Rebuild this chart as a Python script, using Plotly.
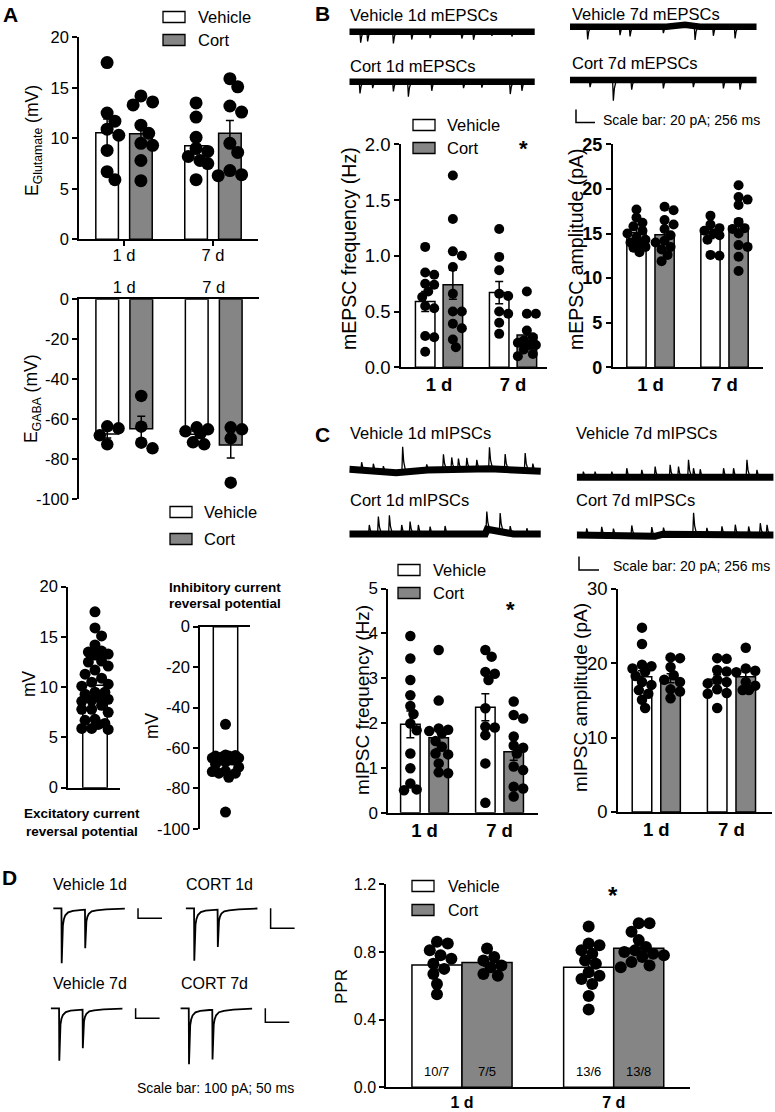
import numpy as np
import plotly.graph_objects as go

W, H = 775, 1112
FONT = "Liberation Sans, Arial, Helvetica, sans-serif"
GRAY = "#858585"

# ---------------- data ----------------
groups = ["1 d", "7 d"]

# A: E_Glutamate (mV)
eglu_veh_1d = [17.5, 12.5, 11.7, 10.9, 10.3, 8.8, 6.7, 5.9]
eglu_cort_1d = [14.2, 13.6, 13.3, 11.3, 10.5, 9.5, 9.3, 7.8, 5.8]
eglu_veh_7d = [13.5, 12.1, 10.1, 9.0, 8.7, 8.2, 7.8, 7.5, 5.9]
eglu_cort_7d = [15.9, 15.1, 13.2, 12.6, 9.5, 8.6, 6.8, 6.4, 6.3]
eglu_mean_veh = [10.55, 9.27]
eglu_mean_cort = [10.45, 10.5]
eglu_sem_veh = [1.35, 0.8]
eglu_sem_cort = [1.0, 1.25]

# A: E_GABA (mV)
egaba_veh_1d = [-63.5, -64.5, -68.0, -72.5]
egaba_cort_1d = [-48.3, -63.7, -71.7, -74.5]
egaba_veh_7d = [-64.0, -65.0, -66.0, -67.0, -71.5, -72.5]
egaba_cort_7d = [-64.0, -65.0, -69.5, -91.7]
egaba_mean_veh = [-67.3, -67.5]
egaba_mean_cort = [-64.7, -72.8]
egaba_sem_veh = [2.0, 1.4]
egaba_sem_cort = [6.2, 6.5]

# A bottom: pooled reversal potentials
excit_mean = [10.2]
excit_sem = [0.5]
inhib_mean = [-68.0]
inhib_sem = [2.3]

# B: mEPSC frequency (Hz)
mf_veh_1d = [1.08, 0.85, 0.83, 0.75, 0.74, 0.68, 0.63, 0.55, 0.53, 0.28, 0.27, 0.14]
mf_cort_1d = [1.72, 1.33, 1.04, 1.0, 0.9, 0.66, 0.5, 0.5, 0.39, 0.35, 0.25, 0.18]
mf_veh_7d = [1.24, 0.99, 0.87, 0.66, 0.64, 0.50, 0.48, 0.40, 0.30]
mf_cort_7d = [0.68, 0.48, 0.48, 0.33, 0.27, 0.24, 0.22, 0.2, 0.2, 0.16, 0.12, 0.1]
mf_mean_veh = [0.59, 0.67]
mf_mean_cort = [0.74, 0.29]
mf_sem_veh = [0.09, 0.10]
mf_sem_cort = [0.13, 0.055]

# B: mEPSC amplitude (pA)
ma_veh_1d = [17.7, 16.8, 16.2, 15.8, 15.3, 15.0, 14.6, 14.3, 14.0, 13.9, 13.5, 13.4, 12.9]
ma_cort_1d = [18.0, 17.6, 16.5, 16.0, 15.5, 14.8, 14.2, 14.0, 13.5, 13.2, 12.6, 11.9]
ma_veh_7d = [17.0, 16.0, 15.6, 15.3, 15.0, 14.8, 14.3, 12.6, 12.5]
ma_cort_7d = [20.4, 19.1, 18.8, 18.2, 16.3, 15.6, 15.5, 15.0, 13.7, 13.5, 12.4, 10.8]
ma_mean_veh = [15.1, 14.95]
ma_mean_cort = [14.85, 15.8]
ma_sem_veh = [0.45, 0.5]
ma_sem_cort = [0.5, 0.8]

# C: mIPSC frequency (Hz)
if_veh_1d = [3.94, 3.44, 2.96, 2.62, 2.38, 2.2, 1.99, 1.84, 1.32, 0.99, 0.65, 0.52, 0.5]
if_cort_1d = [3.63, 2.5, 1.88, 1.85, 1.82, 1.77, 1.6, 1.47, 1.32, 1.3, 1.1, 0.9, 0.88]
if_veh_7d = [3.63, 3.48, 3.14, 3.1, 2.96, 2.33, 1.92, 1.9, 1.73, 1.1, 0.22]
if_cort_7d = [2.48, 2.18, 2.1, 1.7, 1.5, 1.45, 1.32, 1.03, 0.95, 0.58, 0.54, 0.36]
if_mean_veh = [1.97, 2.35]
if_mean_cort = [1.67, 1.36]
if_sem_veh = [0.30, 0.30]
if_sem_cort = [0.24, 0.19]

# C: mIPSC amplitude (pA)
ia_veh_1d = [24.8, 22.6, 19.8, 19.6, 19.3, 18.9, 18.3, 17.5, 17.1, 16.4, 15.9, 15.1, 14.0]
ia_cort_1d = [20.8, 20.7, 19.5, 18.4, 17.8, 17.5, 16.5, 16.2, 15.3]
ia_veh_7d = [20.7, 20.6, 19.1, 18.9, 17.8, 17.5, 17.3, 16.5, 16.0, 15.9, 14.0]
ia_cort_7d = [22.1, 19.3, 19.0, 18.8, 17.5, 17.0, 16.4, 16.4]
ia_mean_veh = [18.2, 17.85]
ia_mean_cort = [18.0, 18.2]
ia_sem_veh = [0.8, 0.6]
ia_sem_cort = [0.6, 0.7]

# D: paired-pulse ratio
ppr_veh_1d = [0.86, 0.85, 0.81, 0.78, 0.76, 0.73, 0.70, 0.67, 0.61, 0.55]
ppr_cort_1d = [0.82, 0.77, 0.75, 0.72, 0.71, 0.67, 0.66]
ppr_veh_7d = [0.95, 0.85, 0.84, 0.81, 0.79, 0.75, 0.73, 0.68, 0.66, 0.64, 0.61, 0.54, 0.46]
ppr_cort_7d = [0.97, 0.97, 0.92, 0.87, 0.83, 0.81, 0.80, 0.79, 0.78, 0.77, 0.74, 0.72, 0.71]
ppr_mean_veh = [0.723, 0.709]
ppr_mean_cort = [0.737, 0.822]
ppr_sem_veh = [0.03, 0.04]
ppr_sem_cort = [0.02, 0.02]
ppr_n_veh = ["10/7", "13/6"]
ppr_n_cort = ["7/5", "13/8"]

# Miniature current recordings (time ms, current pA)
mepsc_v1d_t = [153, 247, 594, 841, 1089, 1516, 1674, 1921, 2191]
mepsc_v1d_a = [-17, -15, -18, -12, -10, -9, -12, -7, -8]
mepsc_v1d_drift_t = [0, 1200, 1500, 1750, 2000, 2500]
mepsc_v1d_drift_i = [0, 0, -1.5, 0, 1, 0]
mepsc_c1d_t = [144, 315, 594, 796, 1111, 1539, 1786, 2169, 2326]
mepsc_c1d_a = [-18, -10, -15, -23, -14, -10, -9, -19, -14]
mepsc_c1d_drift_t = [0, 2500]
mepsc_c1d_drift_i = [0, 0]
mepsc_v7d_t = [238, 674, 809, 1258, 1685, 1932, 2224]
mepsc_v7d_a = [-19.5, -13, -15, -10, -21.5, -14, -18]
mepsc_v7d_drift_t = [0, 1300, 1550, 1750, 2516]
mepsc_v7d_drift_i = [0, 0, 3, 0, 0]
mepsc_c7d_t = [270, 584, 831, 1258, 1662, 2067, 2291]
mepsc_c7d_a = [-11, -32, -15, -13, -11, -13, -15]
mepsc_c7d_drift_t = [0, 2516]
mepsc_c7d_drift_i = [0, 0]

mipsc_v1d_t = [158, 308, 436, 683, 991, 1205, 1311, 1397, 1504, 1632, 1794, 1995, 2251, 2349]
mipsc_v1d_a = [12, 11, 8.5, 38, 8.5, 23, 18, 16, 17, 13.5, 32, 23, 26, 11]
mipsc_v1d_drift_t = [0, 600, 1000, 1800, 2452]
mipsc_v1d_drift_i = [2, -3, 1, 3, -1]
mipsc_c1d_t = [256, 372, 513, 671, 778, 884, 1034, 1226, 1760, 1931, 2059, 2273]
mipsc_c1d_a = [13.5, 26, 28, 13.5, 18.5, 13.5, 11, 12, 28, 28, 11, 8.5]
mipsc_c1d_drift_t = [0, 1740, 1765, 1950, 2100, 2452]
mipsc_c1d_drift_i = [0, 0, 7, 3, 0, 0]
mipsc_v7d_t = [85, 235, 449, 641, 833, 1004, 1196, 1303, 1431, 1495, 1581, 1880, 2008, 2179, 2307]
mipsc_v7d_a = [8.5, 8.5, 8.5, 13.5, 11, 16, 18.5, 16, 26, 13.5, 12, 13.5, 13.5, 26, 11]
mipsc_v7d_drift_t = [0, 2521]
mipsc_v7d_drift_i = [0, 0]
mipsc_c7d_t = [128, 320, 470, 705, 961, 1111, 1496, 1666, 1859, 2030, 2201, 2350, 2436]
mipsc_c7d_a = [10, 12.5, 10, 15, 13.5, 10, 32.5, 10, 12.5, 15, 12.5, 17.5, 15]
mipsc_c7d_drift_t = [0, 900, 1000, 1100, 2521]
mipsc_c7d_drift_i = [0, -1, -2, 1, 0]

# Paired-pulse recordings (time ms, current pA)
ppr_trace_t = [0, 17.0, 17.5, 18.5, 20, 22, 25, 31, 41, 60, 66, 66.5, 67.5, 69, 71, 74, 80, 90, 110, 149]
ppr_trace_v1d = [0, 0, -550, -300, -170, -110, -70, -40, -25, -16, -15, -400, -230, -130, -85, -55, -30, -20, -10, -3]
ppr_trace_c1d = [0, 0, -262, -145, -82, -53, -34, -19, -12, -8, -7, -193, -110, -62, -41, -26, -15, -10, -5, -1]
ppr_trace_v7d = [0, 0, -524, -290, -160, -105, -67, -38, -24, -15, -14, -400, -230, -130, -85, -55, -30, -20, -10, -3]
ppr_trace_c7d = [0, 0, -400, -220, -122, -80, -51, -29, -18, -12, -11, -366, -210, -119, -78, -50, -28, -18, -9, -2]

# scale bars
mini_sb_pA, mini_sb_ms = 20, 256
ppr_sb_pA, ppr_sb_ms = 100, 50

# ---------------- helpers ----------------
fig = go.Figure()
layout = {}
annotations = []
shapes = []
_count = [0]


def new_axes(x0, x1, ytop, ybot, xrange, yrange, xkw=None, ykw=None):
    _count[0] += 1
    n = _count[0]
    s = "" if n == 1 else str(n)
    xa = dict(domain=[x0 / W, x1 / W], range=xrange, anchor="y" + s, visible=False,
              fixedrange=True, showgrid=False, zeroline=False, automargin=False)
    ya = dict(domain=[1 - ybot / H, 1 - ytop / H], range=yrange, anchor="x" + s, visible=False,
              fixedrange=True, showgrid=False, zeroline=False, automargin=False)
    if xkw:
        xa.update(xkw)
    if ykw:
        ya.update(ykw)
    layout["xaxis" + s] = xa
    layout["yaxis" + s] = ya
    return "x" + s, "y" + s


def txt(x, y, s, size, bold=False, anchor="left", angle=0, yanchor="middle"):
    annotations.append(dict(x=x / W, y=1 - y / H, xref="paper", yref="paper",
                            text=("<b>%s</b>" % s if bold else s), showarrow=False,
                            xanchor=anchor, yanchor=yanchor, textangle=angle,
                            font=dict(size=size, family=FONT, color="black")))


def legend(bx0, bx1, yv, yc, tx, size, bh=11):
    for yy, col, lab in ((yv, "white", "Vehicle"), (yc, GRAY, "Cort")):
        shapes.append(dict(type="rect", xref="paper", yref="paper", x0=bx0 / W, x1=bx1 / W,
                           y0=1 - (yy + bh / 2) / H, y1=1 - (yy - bh / 2) / H,
                           fillcolor=col, line=dict(color="black", width=1.3)))
        txt(tx, yy, lab, size)


def swarm(vals, diam, pxx, pxy, maxoff):
    step = diam * 0.3
    cands = [0.0]
    k = 1
    while k * step <= maxoff:
        cands += [k * step, -k * step]
        k += 1
    placed = []
    res = [0.0] * len(vals)
    for i in sorted(range(len(vals)), key=lambda j: -vals[j]):
        yp = vals[i] * pxy
        best, bestd = 0.0, -1
        for c in cands:
            d = min(((c - a) ** 2 + (yp - b) ** 2) ** 0.5 for a, b in placed) if placed else 1e9
            if d >= diam * 0.8:
                best = c
                break
            if d > bestd:
                best, bestd = c, d
        placed.append((best, yp))
        res[i] = best / pxx
    return res


def axis_style(size):
    return dict(visible=True, showline=True, linecolor="black", linewidth=1.5,
                tickcolor="black", tickwidth=1.5, ticklen=5,
                tickfont=dict(size=size, family=FONT, color="black"))


def bar_panel(box, xrange, yrange, yticks, ytext, series, bw, dot, tickfont, xfont,
              xlabels=None, xside="bottom", xticks=False, xstandoff=None):
    x0, x1, ytop, ybot = box
    xkw = axis_style(xfont)
    if xlabels is None:
        xkw.update(showticklabels=False, ticks="", tickvals=[])
    else:
        xkw.update(tickvals=[0, 1], ticktext=xlabels, ticks="outside" if xticks else "")
    if xstandoff is not None:
        xkw.update(ticklabelstandoff=xstandoff)
    xkw.update(side=xside)
    ykw = axis_style(tickfont)
    ykw.update(ticks="outside", tickvals=yticks, ticktext=ytext)
    xr, yr = new_axes(x0, x1, ytop, ybot, xrange, yrange, xkw, ykw)
    pxx = (x1 - x0) / (xrange[1] - xrange[0])
    pxy = (ybot - ytop) / (yrange[1] - yrange[0])
    dx, dy = [], []
    for xs, means, sems, col, dots in series:
        fig.add_trace(go.Bar(x=xs, y=means, width=[bw] * len(xs),
                             marker=dict(color=col, line=dict(color="black", width=1.5)),
                             error_y=dict(type="data", array=sems, color="black", thickness=1.5, width=4),
                             xaxis=xr, yaxis=yr, showlegend=False, hoverinfo="skip"))
        for xc, vals in zip(xs, dots):
            offs = swarm(vals, dot, pxx, pxy, bw * pxx * 0.55)
            dx += [xc + o for o in offs]
            dy += list(vals)
    fig.add_trace(go.Scatter(x=dx, y=dy, mode="markers", cliponaxis=False,
                             marker=dict(color="black", size=dot, line=dict(width=0)),
                             xaxis=xr, yaxis=yr, showlegend=False, hoverinfo="skip"))
    return xr, yr


def ephys_axes(x0px, y0px, pxms, pxpa, trange, irange):
    return new_axes(x0px + trange[0] * pxms, x0px + trange[1] * pxms,
                    y0px - irange[1] * pxpa, y0px - irange[0] * pxpa, trange, irange)


SPIKE_T = [-10, 0, 14, 40]
SPIKE_F = [0, 1, 0.4, 0]


def mini_trace(x0px, y0px, pxms, pxpa, dur, drift_t, drift_i, ev_t, ev_a, irange, band=6.5):
    xr, yr = ephys_axes(x0px, y0px, pxms, pxpa, [0, dur], irange)
    fig.add_trace(go.Scatter(x=drift_t, y=drift_i, mode="lines", line=dict(color="black", width=band),
                             xaxis=xr, yaxis=yr, showlegend=False, hoverinfo="skip"))
    xs, ys = [], []
    for t, a in zip(ev_t, ev_a):
        base = float(np.interp(t, drift_t, drift_i))
        for dt, f in zip(SPIKE_T, SPIKE_F):
            xs.append(t + dt)
            ys.append(base + a * f)
        xs.append(None)
        ys.append(None)
    fig.add_trace(go.Scatter(x=xs, y=ys, mode="lines", line=dict(color="black", width=1.3),
                             xaxis=xr, yaxis=yr, showlegend=False, hoverinfo="skip", cliponaxis=False))


def scale_L(cx, cy, pxms, pxpa, sb_ms, sb_pa):
    xr, yr = ephys_axes(cx, cy, pxms, pxpa, [-0.1 * sb_ms, 1.1 * sb_ms], [-0.2 * sb_pa, 1.2 * sb_pa])
    fig.add_trace(go.Scatter(x=[0, 0, sb_ms], y=[sb_pa, 0, 0], mode="lines",
                             line=dict(color="black", width=1.5),
                             xaxis=xr, yaxis=yr, showlegend=False, hoverinfo="skip"))


def ppr_trace(x0px, y0px, pxpa, cur):
    pxms = 0.48
    sb_t = 176.5
    xr, yr = ephys_axes(x0px, y0px, pxms, pxpa, [-4, 232], [min(cur) - 20, 0.2 * ppr_sb_pA])
    fig.add_trace(go.Scatter(x=ppr_trace_t, y=cur, mode="lines", line=dict(color="black", width=1.8),
                             xaxis=xr, yaxis=yr, showlegend=False, hoverinfo="skip"))
    fig.add_trace(go.Scatter(x=[sb_t, sb_t, sb_t + ppr_sb_ms], y=[0, -ppr_sb_pA, -ppr_sb_pA], mode="lines",
                             line=dict(color="black", width=1.5),
                             xaxis=xr, yaxis=yr, showlegend=False, hoverinfo="skip"))


def pm(a, d):
    return [v + d for v in a]


# ---------------- Panel A ----------------
txt(10, 14, "A", 21, bold=True, anchor="center")
legend(163, 185, 17, 40, 196, 16.5)
bar_panel((79, 258, 37.3, 239.3), [-0.506, 1.506], [0, 20], [0, 5, 10, 15, 20],
          ["0", "5", "10", "15", "20"],
          [(pm([0, 1], -0.19), eglu_mean_veh, eglu_sem_veh, "white", [eglu_veh_1d, eglu_veh_7d]),
           (pm([0, 1], 0.19), eglu_mean_cort, eglu_sem_cort, GRAY, [eglu_cort_1d, eglu_cort_7d])],
          0.254, 13, 16.5, 16.5, xlabels=groups, xticks=True, xstandoff=-5)
txt(33, 141, "E<sub>Glutamate</sub> (mV)", 17.5, anchor="center", angle=-90)

bar_panel((79, 259, 299.3, 499.3), [-0.506, 1.506], [-100, 0], [-100, -80, -60, -40, -20, 0],
          ["-100", "-80", "-60", "-40", "-20", "0"],
          [(pm([0, 1], -0.19), egaba_mean_veh, egaba_sem_veh, "white", [egaba_veh_1d, egaba_veh_7d]),
           (pm([0, 1], 0.19), egaba_mean_cort, egaba_sem_cort, GRAY, [egaba_cort_1d, egaba_cort_7d])],
          0.254, 12.5, 16.5, 16.5, xlabels=groups, xside="top", xstandoff=-2)
txt(32, 399, "E<sub>GABA</sub> (mV)", 17.5, anchor="center", angle=-90)
legend(170, 192, 512, 539, 202, 16.5)

excit_all = eglu_veh_1d + eglu_cort_1d + eglu_veh_7d + eglu_cort_7d
inhib_all = egaba_veh_1d + egaba_cort_1d + egaba_veh_7d + egaba_cort_7d
bar_panel((68, 120, 586.7, 787.7), [-1.10, 1.02], [0, 20], [0, 5, 10, 15, 20],
          ["0", "5", "10", "15", "20"],
          [([0], excit_mean, excit_sem, "white", [excit_all])], 1.0, 11, 16.5, 16.5)
txt(29, 684, "mV", 17.5, anchor="center", angle=-90)
txt(82, 813, "Excitatory current", 13.5, bold=True, anchor="center")
txt(82, 831, "reversal potential", 13.5, bold=True, anchor="center")

bar_panel((200, 250, 626.7, 828.8), [-1.045, 1.004], [-100, 0], [-100, -80, -60, -40, -20, 0],
          ["-100", "-80", "-60", "-40", "-20", "0"],
          [([0], inhib_mean, inhib_sem, "white", [inhib_all])], 1.0, 11, 16.5, 16.5, xside="top")
txt(152, 726, "mV", 17.5, anchor="center", angle=-90)
txt(225, 587, "Inhibitory current", 13.5, bold=True, anchor="center")
txt(225, 603, "reversal potential", 13.5, bold=True, anchor="center")

# ---------------- Panel B ----------------
txt(322, 13, "B", 21, bold=True, anchor="center")
B_PXMS = 19.0 / mini_sb_ms
B_PXPA = 0.65
txt(348, 15, "Vehicle 1d mEPSCs", 16.5)
txt(348, 66, "Cort 1d mEPSCs", 16.5)
txt(570, 14, "Vehicle 7d mEPSCs", 16.5)
txt(570, 63, "Cort 7d mEPSCs", 16.5)
mini_trace(349.3, 31.7, B_PXMS, B_PXPA, 2500, mepsc_v1d_drift_t, mepsc_v1d_drift_i, mepsc_v1d_t, mepsc_v1d_a, [-30, 10])
mini_trace(349.3, 81.7, B_PXMS, B_PXPA, 2500, mepsc_c1d_drift_t, mepsc_c1d_drift_i, mepsc_c1d_t, mepsc_c1d_a, [-30, 10])
mini_trace(570.0, 26.7, B_PXMS, B_PXPA, 2516, mepsc_v7d_drift_t, mepsc_v7d_drift_i, mepsc_v7d_t, mepsc_v7d_a, [-30, 10])
mini_trace(570.0, 80.0, B_PXMS, B_PXPA, 2516, mepsc_c7d_drift_t, mepsc_c7d_drift_i, mepsc_c7d_t, mepsc_c7d_a, [-36, 10])
scale_L(576, 122.5, B_PXMS, B_PXPA, mini_sb_ms, mini_sb_pA)
txt(601, 120, "Scale bar: 20 pA; 256 ms", 14)

legend(413, 435, 125, 148, 445, 16.5)
bar_panel((401, 546.7, 144.3, 367.3), [-0.514, 1.455], [0, 2], [0, 0.5, 1, 1.5, 2],
          ["0.0", "0.5", "1.0", "1.5", "2.0"],
          [(pm([0, 1], -0.187), mf_mean_veh, mf_sem_veh, "white", [mf_veh_1d, mf_veh_7d]),
           (pm([0, 1], 0.187), mf_mean_cort, mf_sem_cort, GRAY, [mf_cort_1d, mf_cort_7d])],
          0.264, 10, 18.5, 18.5, xlabels=["<b>1 d</b>", "<b>7 d</b>"])
txt(349, 249, "mEPSC frequency (Hz)", 19.5, anchor="center", angle=-90)
txt(523, 149, "*", 22, bold=True, anchor="center")

bar_panel((612.7, 763.3, 144.3, 367.3), [-0.511, 1.524], [0, 25], [0, 5, 10, 15, 20, 25],
          ["<b>0</b>", "<b>5</b>", "<b>10</b>", "<b>15</b>", "<b>20</b>", "<b>25</b>"],
          [(pm([0, 1], -0.19), ma_mean_veh, ma_sem_veh, "white", [ma_veh_1d, ma_veh_7d]),
           (pm([0, 1], 0.19), ma_mean_cort, ma_sem_cort, GRAY, [ma_cort_1d, ma_cort_7d])],
          0.26, 10, 18, 18.5, xlabels=["<b>1 d</b>", "<b>7 d</b>"])
txt(576, 249, "mEPSC amplitude (pA)", 19.5, anchor="center", angle=-90)

# ---------------- Panel C ----------------
txt(322, 434, "C", 21, bold=True, anchor="center")
C_PXMS = 20.0 / mini_sb_ms
C_PXPA = 0.67
txt(348, 433, "Vehicle 1d mIPSCs", 16.5)
txt(348, 500, "Cort 1d mIPSCs", 16.5)
txt(574, 433, "Vehicle 7d mIPSCs", 16.5)
txt(574, 500, "Cort 7d mIPSCs", 16.5)
mini_trace(349.3, 470.7, C_PXMS, C_PXPA, 2452, mipsc_v1d_drift_t, mipsc_v1d_drift_i, mipsc_v1d_t, mipsc_v1d_a, [-10, 42], band=7)
mini_trace(349.3, 534.0, C_PXMS, C_PXPA, 2452, mipsc_c1d_drift_t, mipsc_c1d_drift_i, mipsc_c1d_t, mipsc_c1d_a, [-10, 42], band=7)
mini_trace(576.7, 477.3, C_PXMS, C_PXPA, 2521, mipsc_v7d_drift_t, mipsc_v7d_drift_i, mipsc_v7d_t, mipsc_v7d_a, [-10, 42], band=7)
mini_trace(576.7, 535.0, C_PXMS, C_PXPA, 2521, mipsc_c7d_drift_t, mipsc_c7d_drift_i, mipsc_c7d_t, mipsc_c7d_a, [-10, 42], band=7)
scale_L(579, 570, C_PXMS, C_PXPA, mini_sb_ms, mini_sb_pA)
txt(611, 566, "Scale bar: 20 pA; 256 ms", 14)

legend(398, 420, 570, 593, 431, 16.5)
bar_panel((388, 538, 588.5, 812.7), [-0.487, 1.513], [0, 5], [0, 1, 2, 3, 4, 5],
          ["0", "1", "2", "3", "4", "5"],
          [(pm([0, 1], -0.189), if_mean_veh, if_sem_veh, "white", [if_veh_1d, if_veh_7d]),
           (pm([0, 1], 0.189), if_mean_cort, if_sem_cort, GRAY, [if_cort_1d, if_cort_7d])],
          0.26, 10.5, 17, 18.5, xlabels=["<b>1 d</b>", "<b>7 d</b>"])
txt(362, 700, "mIPSC frequency (Hz)", 19, anchor="center", angle=-90)
txt(510, 609, "*", 22, bold=True, anchor="center")

bar_panel((618, 772, 589, 812), [-0.509, 1.539], [0, 30], [0, 10, 20, 30],
          ["0", "10", "20", "30"],
          [(pm([0, 1], -0.19), ia_mean_veh, ia_sem_veh, "white", [ia_veh_1d, ia_veh_7d]),
           (pm([0, 1], 0.19), ia_mean_cort, ia_sem_cort, GRAY, [ia_cort_1d, ia_cort_7d])],
          0.26, 10.5, 18.5, 18.5, xlabels=["<b>1 d</b>", "<b>7 d</b>"])
txt(580, 698, "mIPSC amplitude (pA)", 19, anchor="center", angle=-90)

# ---------------- Panel D ----------------
txt(9, 877, "D", 21, bold=True, anchor="center")
txt(51, 884, "Vehicle 1d", 16)
txt(184, 884, "CORT 1d", 16)
txt(51, 983, "Vehicle 7d", 16)
txt(179, 983, "CORT 7d", 16)
ppr_trace(53.3, 908.3, 0.10, ppr_trace_v1d)
ppr_trace(185.9, 908.3, 0.20, ppr_trace_c1d)
ppr_trace(50.9, 1008.3, 0.10, ppr_trace_v7d)
ppr_trace(180.6, 1008.3, 0.14, ppr_trace_c7d)
txt(135, 1088, "Scale bar: 100 pA; 50 ms", 14)

legend(412, 434, 886, 910, 446, 16)
dx_, dy_ = bar_panel((386, 690, 884.3, 1087.3), [-0.501, 1.503], [0, 1.2], [0, 0.4, 0.8, 1.2],
                     ["0.0", "0.4", "0.8", "1.2"],
                     [(pm([0, 1], -0.165), ppr_mean_veh, ppr_sem_veh, "white", [ppr_veh_1d, ppr_veh_7d]),
                      (pm([0, 1], 0.165), ppr_mean_cort, ppr_sem_cort, GRAY, [ppr_cort_1d, ppr_cort_7d])],
                     0.33, 12, 16, 16, xlabels=["<b>1 d</b>", "<b>7 d</b>"])
for xs, labs in ((pm([0, 1], -0.165), ppr_n_veh), (pm([0, 1], 0.165), ppr_n_cort)):
    for xv, lab in zip(xs, labs):
        annotations.append(dict(x=xv, y=0.092, xref=dx_, yref=dy_, text=lab, showarrow=False,
                                font=dict(size=13, family=FONT, color="black")))
txt(341, 987, "PPR", 17, anchor="center", angle=-90)
txt(613, 895, "*", 24, bold=True, anchor="center")

layout.update(width=W, height=H, margin=dict(l=0, r=0, t=0, b=0, pad=0),
              paper_bgcolor="white", plot_bgcolor="white", showlegend=False,
              barmode="overlay", annotations=annotations, shapes=shapes,
              font=dict(family=FONT, color="black"))
fig.update_layout(**layout)
fig.write_html("out.html", config={"displayModeBar": False},
               post_script="document.body.style.margin='0';document.body.style.padding='0';")
